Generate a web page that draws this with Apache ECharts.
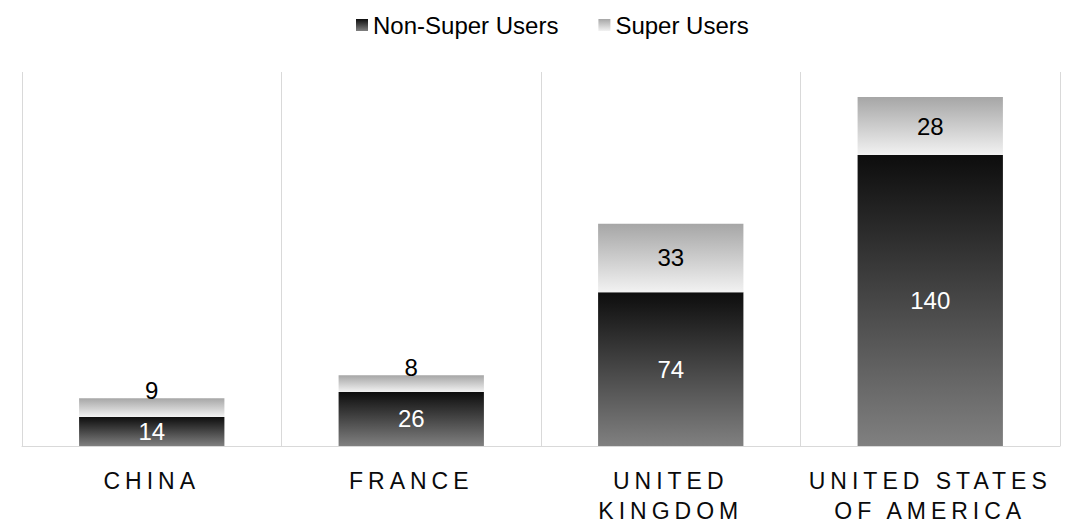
<!DOCTYPE html>
<html>
<head>
<meta charset="utf-8">
<script src="https://cdn.jsdelivr.net/npm/echarts@6/dist/echarts.min.js"></script>
<style>
  html, body { margin: 0; padding: 0; background: #fff; }
  #chart { width: 1076px; height: 523px; }
  /* axis labels are spaced out like the original */
  #chart text[fill="#0a0a0b"], #chart text[fill="rgb(10,10,11)"] { letter-spacing: 5px; }
</style>
</head>
<body>
<div id="chart"></div>
<script>
// data
var countries = ['CHINA', 'FRANCE', 'UNITED\nKINGDOM', 'UNITED STATES\nOF AMERICA'];
var nonSuperUsers = [14, 26, 74, 140];
var superUsers = [9, 8, 33, 28];

var chart = echarts.init(document.getElementById('chart'), null, { renderer: 'svg' });

function vGrad(top, bottom) {
    return new echarts.graphic.LinearGradient(0, 0, 0, 1, [
        { offset: 0, color: top },
        { offset: 1, color: bottom }
    ]);
}

var font = 'Liberation Sans, Arial, sans-serif';

var option = {
    animation: false,
    textStyle: { fontFamily: font },
    legend: {
        top: 8,
        left: 351,
        icon: 'rect',
        itemWidth: 12,
        itemHeight: 12,
        itemGap: 40,
        textStyle: { fontSize: 24, color: '#000', fontFamily: font },
        data: ['Non-Super Users', 'Super Users']
    },
    grid: { left: 22, right: 16, top: 72, bottom: 77, outerBoundsMode: 'none' },
    xAxis: {
        type: 'category',
        data: countries,
        axisLine: { lineStyle: { color: '#d9d9d9', width: 1 } },
        axisTick: { show: false },
        splitLine: { show: true, lineStyle: { color: '#d9d9d9', width: 1 } },
        axisLabel: {
            color: '#0a0a0b',
            fontSize: 23,
            lineHeight: 30,
            margin: 20,
            fontFamily: font,
            interval: 0
        }
    },
    yAxis: {
        type: 'value',
        min: 0,
        max: 180,
        show: false,
        splitLine: { show: false }
    },
    series: [
        {
            name: 'Non-Super Users',
            type: 'bar',
            stack: 'users',
            barWidth: '56%',
            itemStyle: { color: vGrad('#0d0d0d', '#808080') },
            label: {
                show: true,
                position: 'inside',
                color: '#fff',
                fontSize: 24,
                fontFamily: font
            },
            data: nonSuperUsers
        },
        {
            name: 'Super Users',
            type: 'bar',
            stack: 'users',
            barWidth: '56%',
            itemStyle: { color: vGrad('#a6a6a6', '#f2f2f2') },
            label: {
                show: true,
                position: 'inside',
                color: '#000',
                fontSize: 24,
                fontFamily: font
            },
            data: superUsers.map(function (v) {
                return v < 15
                    ? { value: v, label: { position: 'top', distance: -4 } }
                    : v;
            })
        }
    ]
};

chart.setOption(option);
</script>
</body>
</html>
